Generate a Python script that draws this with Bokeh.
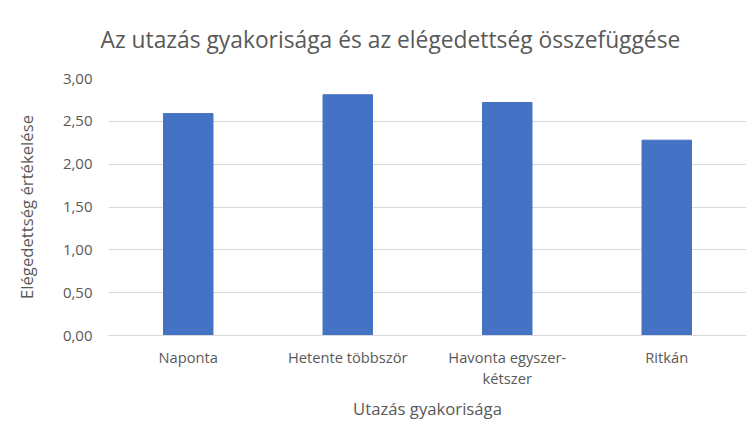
from bokeh.plotting import figure
from bokeh.models import Range1d, SingleIntervalTicker, CustomJSTickFormatter, Title, CategoricalAxis
from bokeh.embed import file_html
from bokeh.resources import INLINE

categories = ["Naponta", "Hetente többször", "Havonta egyszer-kétszer", "Ritkán"]
label_line1 = ["Naponta", "Hetente többször", "Havonta egyszer-", "Ritkán"]
label_line2 = ["", "", "kétszer", ""]
values = [2.59, 2.81, 2.72, 2.28]

title_text = "Az utazás gyakorisága és az elégedettség összefüggése"
x_title = "Utazás gyakorisága"
y_title = "Elégedettség értékelése"

FONT = "Open Sans"
TXT = "#595959"
GRID = "#d9d9d9"

p = figure(x_range=categories, y_range=Range1d(0, 3.0),
           width=746, height=438, output_backend="svg", toolbar_location=None,
           min_border_left=108, min_border_right=0, min_border_top=78, min_border_bottom=103)

p.vbar(x=categories, top=values, width=0.31, color="#4472C4")

t = Title(text=title_text, text_font=FONT, text_font_size="22.8px", text_color=TXT,
          text_font_style="normal", align="left", offset=-8, standoff=44,
          vertical_align="top")
p.add_layout(t, "above")
p.title.visible = False

p.outline_line_color = None
p.xgrid.grid_line_color = None
p.ygrid.grid_line_color = GRID
p.ygrid.grid_line_width = 1

p.yaxis.ticker = SingleIntervalTicker(interval=0.5)
p.yaxis.formatter = CustomJSTickFormatter(code="return tick.toFixed(2).replace('.', ',');")
p.yaxis.axis_line_color = None
p.yaxis.major_tick_line_color = None
p.yaxis.minor_tick_line_color = None
p.yaxis.major_tick_out = 0
p.yaxis.major_label_standoff = 12
p.yaxis.axis_label = y_title
p.yaxis.axis_label_standoff = 22
p.yaxis.major_label_text_font_size = "15px"

label_code = "const i = cats.indexOf(tick); return i >= 0 ? labs[i] : tick;"

p.xaxis.axis_line_color = GRID
p.xaxis.major_tick_line_color = None
p.xaxis.minor_tick_line_color = None
p.xaxis.major_tick_out = 0
p.xaxis.major_label_standoff = 11
p.xaxis.formatter = CustomJSTickFormatter(args=dict(cats=categories, labs=label_line1), code=label_code)
p.xaxis.major_label_text_font_size = "14.7px"

ax2 = CategoricalAxis(axis_line_color=None, major_tick_line_color=None,
                      minor_tick_line_color=None, major_tick_out=0,
                      major_label_standoff=-2,
                      formatter=CustomJSTickFormatter(args=dict(cats=categories, labs=label_line2), code=label_code),
                      major_label_text_font_size="14.7px",
                      axis_label=x_title, axis_label_standoff=6)
p.add_layout(ax2, "below")

for ax in (p.xaxis + p.yaxis):
    ax.major_label_text_font = FONT
    ax.major_label_text_color = TXT
    ax.axis_label_text_font = FONT
    ax.axis_label_text_font_size = "16.7px"
    ax.axis_label_text_font_style = "normal"
    ax.axis_label_text_color = TXT

open("out.html", "w").write(file_html(p, INLINE))
